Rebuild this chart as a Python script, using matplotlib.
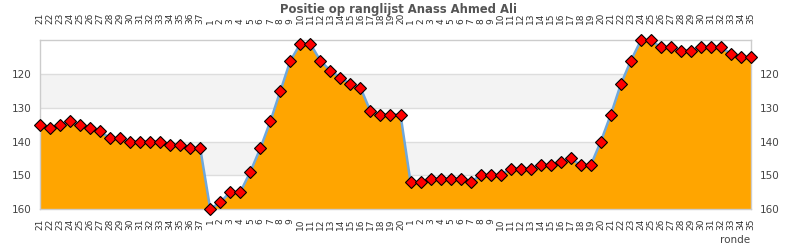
import matplotlib
matplotlib.use("Agg")
import matplotlib.pyplot as plt
import numpy as np

season1_rounds = list(range(21, 38))
season1_pos = [135, 136, 135, 134, 135, 136, 137, 139, 139, 140, 140, 140, 140, 141, 141, 142, 142]
season2_rounds = list(range(1, 21))
season2_pos = [160, 158, 155, 155, 149, 142, 134, 125, 116, 111, 111, 116, 119, 121, 123, 124, 131, 132, 132, 132]
season3_rounds = list(range(1, 36))
season3_pos = [152, 152, 151, 151, 151, 151, 152, 150, 150, 150, 148, 148, 148, 147, 147, 146, 145, 147, 147, 140,
               132, 123, 116, 110, 110, 112, 112, 113, 113, 112, 112, 112, 114, 115, 115]

labels = [str(r) for r in season1_rounds + season2_rounds + season3_rounds]
values = season1_pos + season2_pos + season3_pos
x = np.arange(len(values))

fig = plt.figure(figsize=(7.9, 2.5), dpi=100)
ax = fig.add_axes([40/790, 1-209/250, 711/790, 168.5/250])

ymin, ymax = 110, 160
ax.set_ylim(ymax, ymin)
ax.set_xlim(x[0], x[-1])

for lo, hi in [(120, 130), (140, 150)]:
    ax.axhspan(lo, hi, color='#f3f3f3', zorder=0, lw=0)
for yv in [120, 130, 140, 150]:
    ax.axhline(yv, color='#dddddd', lw=1, zorder=0.5)

ax.fill_between(x, values, ymax, color='#FFA500', zorder=1, lw=0)
ax.plot(x, values, color='#6fa8dc', lw=1.8, zorder=2)
ax.plot(x, values, ls='none', marker='D', ms=5.8, mfc='#ff0000', mec='black', mew=0.8, zorder=3, clip_on=False)

for s in ax.spines.values():
    s.set_color('#cccccc')
    s.set_linewidth(1)

ax.set_yticks([120, 130, 140, 150, 160])
ax.tick_params(axis='y', length=0, labelsize=7.5, labelcolor='#444444', left=True, right=True,
               labelleft=True, labelright=True, pad=6)
ax.set_xticks(x)
ax.set_xticklabels(labels, rotation=90, fontsize=6.5, color='#333333')
ax.tick_params(axis='x', length=0, pad=7)

ax2 = ax.twiny()
ax2.set_xlim(ax.get_xlim())
ax2.set_xticks(x)
ax2.set_xticklabels(labels, rotation=90, fontsize=6.5, color='#333333')
ax2.tick_params(axis='x', length=0, pad=12)
for s in ax2.spines.values():
    s.set_visible(False)

fig.text(399/790, 1-10/250, 'Positie op ranglijst Anass Ahmed Ali', ha='center', va='center',
         fontsize=9.3, fontweight='bold', fontstretch='condensed', family='DejaVu Sans',
         color='#555555')
fig.text(750/790, 1-240/250, 'ronde', ha='right', va='center', fontsize=7.5, color='#444444')

fig.savefig('out.png', dpi=100)
